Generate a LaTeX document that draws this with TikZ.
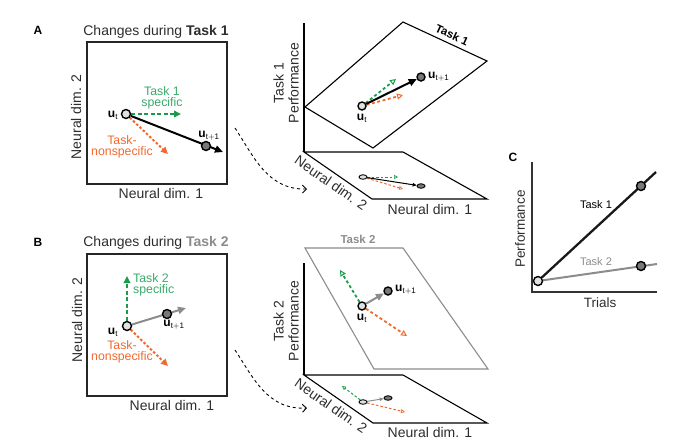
\documentclass[tikz,border=0pt]{standalone}
\usepackage{fontspec}
\setmainfont{Liberation Sans}
\usetikzlibrary{arrows.meta,shapes.geometric}
\pgfdeclarelayer{planes}\pgfdeclarelayer{conn}
\pgfsetlayers{planes,conn,main}
\definecolor{tgreen}{RGB}{25,155,75}
\definecolor{tgreenL}{RGB}{55,170,105}
\definecolor{torange}{RGB}{240,105,45}
\definecolor{tgray}{RGB}{140,140,140}
\definecolor{ltfill}{RGB}{225,225,225}
\definecolor{dkfill}{RGB}{120,120,120}
\definecolor{txt}{RGB}{45,45,45}
\newcommand\fsAx{\fontsize{14}{15}\selectfont}
\newcommand\fsLb{\fontsize{12.3}{10.5}\selectfont}
\newcommand\fsSm{\fontsize{11}{12}\selectfont}
\newcommand\fsU{\fontsize{12}{12}\selectfont}
\begin{document}
\begin{tikzpicture}[x=1pt,y=-1pt,
  axlab/.style={font=\fsAx, text=txt, inner sep=0pt},
  lblg/.style={font=\fsLb, text=tgreenL, align=center, inner sep=0pt},
  lblo/.style={font=\fsLb, text=torange, align=center, inner sep=0pt},
  ulab/.style={font=\fsU, inner sep=0pt},
  panel/.style={font=\fontsize{12}{12}\selectfont\bfseries, inner sep=0pt},
  ucirc/.style={circle, draw=black, line width=1.4pt, fill=ltfill, inner sep=0pt, minimum size=9pt},
  uncirc/.style={circle, draw=black, line width=1.4pt, fill=dkfill, inner sep=0pt, minimum size=9pt},
  uell/.style={ellipse, draw=black, line width=0.9pt, fill=ltfill, inner sep=0pt, minimum width=8pt, minimum height=4.5pt},
  unell/.style={ellipse, draw=black, line width=0.9pt, fill=dkfill, inner sep=0pt, minimum width=8pt, minimum height=4.5pt},
  blkarr/.style={line width=2pt, -{Triangle[length=8pt,width=7pt]}},
  gryarr/.style={tgray, line width=2pt, -{Triangle[length=8pt,width=7pt]}},
  grarr/.style={tgreen, line width=2pt, dash pattern=on 4pt off 2.5pt, -{Triangle[length=7pt,width=6.5pt]}},
  orarr/.style={torange, line width=2pt, dash pattern=on 2.5pt off 2pt, -{Triangle[length=7pt,width=6.5pt]}},
  grarrO/.style={tgreen, line width=1.8pt, dash pattern=on 3pt off 2.5pt, -{Triangle[open,length=6pt,width=6pt,line width=1pt]}},
  orarrO/.style={torange, line width=1.8pt, dash pattern=on 3pt off 2.5pt, -{Triangle[open,length=6pt,width=6pt,line width=1pt]}},
  blksm/.style={line width=1pt, -{Triangle[length=4pt,width=3.5pt]}},
  grysm/.style={tgray, line width=1pt, -{Triangle[length=4pt,width=3.5pt]}},
  grsm/.style={tgreen, line width=1pt, dash pattern=on 2.5pt off 2pt, -{Triangle[open,length=4pt,width=4pt,line width=0.7pt]}},
  orsm/.style={torange, line width=1pt, dash pattern=on 2.5pt off 2pt, -{Triangle[open,length=4pt,width=4pt,line width=0.7pt]}},
  curvy/.style={line width=0.9pt, dash pattern=on 3pt off 3pt, -{Straight Barb[length=4pt,width=8pt]}},
  planeK/.style={line width=1.1pt, draw=black},
  planeG/.style={line width=1.1pt, draw=tgray},
  boxst/.style={draw=black!85, line width=1.4pt, inner sep=0pt, minimum width=140pt, minimum height=142pt}
]
\useasboundingbox (0,0) rectangle (692,445);

% ================= PANEL A =================
\node[panel] (labA) at (38,30) {A};
\node[font=\fsAx, text=txt, inner sep=0pt] (titA) at (156,32) {Changes during \textbf{Task 1}};
\node[boxst] (boxA) at (157,113) {};
\node[axlab] (xA) at (161,193) {Neural dim. 1};
\node[axlab, rotate=90] (yA) at (76,117) {Neural dim. 2};

\node[ucirc] (ua) at (126,114) {};
\node[uncirc] (ua1) at (206,146) {};
\coordinate (uatip) at (223,152);
\coordinate (uag) at (181,114);
\coordinate (uao) at (168,154);
\begin{pgfonlayer}{conn}
\draw[blkarr] (ua) -- (uatip);
\draw[grarr] (ua) -- (uag);
\draw[orarr] (ua) -- (uao);
\end{pgfonlayer}
\node[ulab] (ualab) at (113,115) {$\mathbf{u}_{\mathrm{t}}$};
\node[ulab] (ua1lab) at (209,136) {$\mathbf{u}_{\mathrm{t+1}}$};
\node[lblg] (gA) at (162,98) {Task 1\\specific};
\node[lblo] (oA) at (122,147) {Task-\\nonspecific};

% curved link A
\coordinate (cA0) at (235,128);
\coordinate (cA1) at (307,189);
\draw[curvy] (cA0) .. controls (253,155) and (267,190) .. (cA1);

% 3D A
\coordinate (axA0) at (304,23);
\coordinate (oA0) at (304,152);
\coordinate (pA1) at (305,107);
\coordinate (pA2) at (403,22);
\coordinate (pA3) at (487,61);
\coordinate (pA4) at (373,148);
\coordinate (lA2) at (403,152);
\coordinate (lA3) at (487,199);
\coordinate (lA4) at (372,199);
\begin{pgfonlayer}{planes}
\draw[planeK] (pA1) -- (pA2) -- (pA3) -- (pA4) -- cycle;
\draw[planeK] (axA0) -- (oA0);
\draw[planeK] (oA0) -- (lA2) -- (lA3) -- (lA4) -- cycle;
\end{pgfonlayer}
\node[font=\fontsize{11.5}{12}\selectfont\bfseries, rotate=-25, inner sep=0pt] (tA) at (452,35) {Task 1};
\node[axlab, rotate=90, align=center] (pfA) at (286,83) {Task 1\\Performance};
\node[axlab, rotate=-35] (n2A) at (331,183) {Neural dim. 2};
\node[axlab] (n1A) at (430,209) {Neural dim. 1};

\node[ucirc, minimum size=8pt] (pa) at (362,106) {};
\node[uncirc, minimum size=8pt] (pa1) at (421,77) {};
\coordinate (pag) at (396,79);
\coordinate (pao) at (403,95);
\begin{pgfonlayer}{conn}
\draw[grarrO] (pa) -- (pag);
\draw[orarrO] (pa) -- (pao);
\draw[blkarr] (pa) -- (pa1);
\end{pgfonlayer}
\node[ulab] (palab) at (362,118) {$\mathbf{u}_{\mathrm{t}}$};
\node[ulab, anchor=west] (pa1lab) at (428,77) {$\mathbf{u}_{\mathrm{t+1}}$};

\node[uell] (la) at (363,177) {};
\node[unell] (la1) at (421,186) {};
\coordinate (lag) at (398,177);
\coordinate (lao) at (403,189);
\begin{pgfonlayer}{conn}
\draw[grsm] (la) -- (lag);
\draw[orsm] (la) -- (lao);
\draw[blksm] (la) -- (la1);
\end{pgfonlayer}

% ================= PANEL B =================
\node[panel] (labB) at (38,242) {B};
\node[font=\fsAx, text=txt, inner sep=0pt] (titB) at (156,243) {Changes during \textcolor{tgray}{\textbf{Task 2}}};
\node[boxst] (boxB) at (157,325) {};
\node[axlab] (xB) at (172,405) {Neural dim. 1};
\node[axlab, rotate=90] (yB) at (77,320) {Neural dim. 2};

\node[ucirc] (ub) at (127,326) {};
\node[uncirc] (ub1) at (167,314) {};
\coordinate (ubtip) at (186,308);
\coordinate (ubg) at (127,276);
\coordinate (ubo) at (168,366);
\begin{pgfonlayer}{conn}
\draw[gryarr] (ub) -- (ubtip);
\draw[grarr] (ub) -- (ubg);
\draw[orarr] (ub) -- (ubo);
\end{pgfonlayer}
\node[ulab] (ublab) at (113,332) {$\mathbf{u}_{\mathrm{t}}$};
\node[ulab] (ub1lab) at (174,325) {$\mathbf{u}_{\mathrm{t+1}}$};
\node[lblg, align=left, anchor=west] (gB) at (133,285) {Task 2\\specific};
\node[lblo] (oB) at (122,352) {Task-\\nonspecific};

% curved link B
\coordinate (cB0) at (235,350);
\coordinate (cB1) at (307,408);
\draw[curvy] (cB0) .. controls (253,377) and (267,410) .. (cB1);

% 3D B
\coordinate (axB0) at (304,263);
\coordinate (oB0) at (304,375);
\coordinate (pB1) at (305,248);
\coordinate (pB2) at (403,248);
\coordinate (pB3) at (488,369);
\coordinate (pB4) at (374,369);
\coordinate (lB2) at (403,375);
\coordinate (lB3) at (487,423);
\coordinate (lB4) at (373,423);
\begin{pgfonlayer}{planes}
\draw[planeG] (pB1) -- (pB2) -- (pB3) -- (pB4) -- cycle;
\draw[planeK] (axB0) -- (oB0);
\draw[planeK] (oB0) -- (lB2) -- (lB3) -- (lB4) -- cycle;
\end{pgfonlayer}
\node[font=\fontsize{11.5}{12}\selectfont\bfseries, text=tgray, inner sep=0pt] (tB) at (358,239) {Task 2};
\node[axlab, rotate=90, align=center] (pfB) at (286,321) {Task 2\\Performance};
\node[axlab, rotate=-35] (n2B) at (331,406) {Neural dim. 2};
\node[axlab] (n1B) at (430,432) {Neural dim. 1};

\node[ucirc, minimum size=8pt] (pb) at (362,306) {};
\node[uncirc, minimum size=8pt] (pb1) at (388,291) {};
\coordinate (pbg) at (340,270);
\coordinate (pbo) at (407,336);
\begin{pgfonlayer}{conn}
\draw[grarrO] (pb) -- (pbg);
\draw[orarrO] (pb) -- (pbo);
\draw[gryarr] (pb) -- (pb1);
\end{pgfonlayer}
\node[ulab] (pblab) at (362,318) {$\mathbf{u}_{\mathrm{t}}$};
\node[ulab, anchor=west] (pb1lab) at (395,290) {$\mathbf{u}_{\mathrm{t+1}}$};

\node[uell] (lb) at (363,402) {};
\node[unell] (lb1) at (388,398) {};
\coordinate (lbg) at (342,386);
\coordinate (lbo) at (405,412);
\begin{pgfonlayer}{conn}
\draw[grsm] (lb) -- (lbg);
\draw[orsm] (lb) -- (lbo);
\draw[grysm] (lb) -- (lb1);
\end{pgfonlayer}

% ================= PANEL C =================
\node[panel] (labC) at (513,157) {C};
\coordinate (cy) at (532,162);
\coordinate (co) at (532,292);
\coordinate (cx) at (657,292);
\draw[line width=1.2pt, black!80] (cy) -- (co) -- (cx);
\node[axlab, font=\fontsize{13.5}{14}\selectfont, rotate=90] (perfC) at (520,229) {Performance};
\node[axlab, font=\fontsize{13.5}{14}\selectfont] (trC) at (600,303) {Trials};
\coordinate (c1e) at (656,172);
\coordinate (c2e) at (657,264);
\node[ucirc] (c0) at (538,281) {};
\node[uncirc] (c1) at (641,186) {};
\node[uncirc] (c2) at (641,266) {};
\begin{pgfonlayer}{conn}
\draw[line width=2.3pt, black!90] (c0) -- (c1e);
\draw[line width=2pt, tgray] (c0) -- (c2e);
\end{pgfonlayer}
\node[font=\fsSm, text=black, inner sep=0pt] (t1C) at (596,205) {Task 1};
\node[font=\fsSm, text=tgray, inner sep=0pt] (t2C) at (596,262) {Task 2};
\end{tikzpicture}
\end{document}
